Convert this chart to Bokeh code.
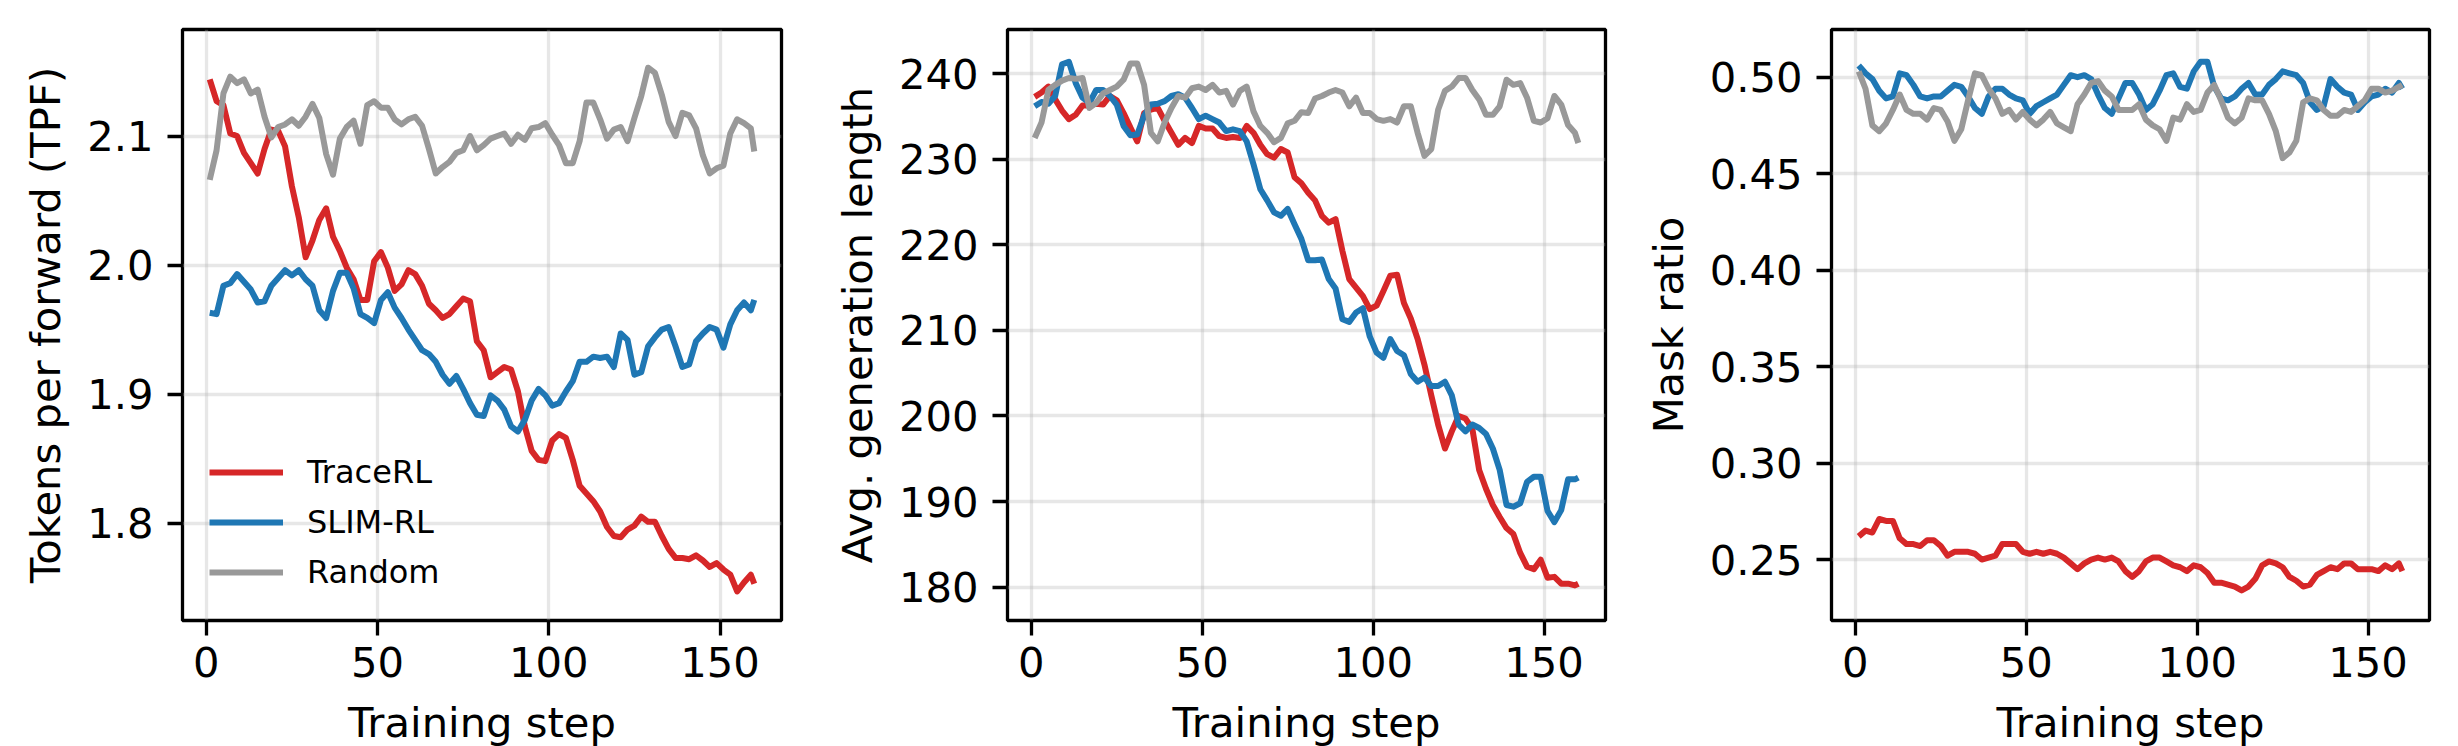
from bokeh.plotting import figure
from bokeh.layouts import row
from bokeh.models import Range1d, FixedTicker, PrintfTickFormatter, Legend, LegendItem
from bokeh.embed import file_html
from bokeh.resources import INLINE

# ---------------- data ----------------
steps = list(range(1, 160, 2)) + [160]

tpf_tracerl = [2.144, 2.127, 2.124, 2.102, 2.100, 2.087, 2.079, 2.071, 2.090, 2.105,
               2.104, 2.092, 2.061, 2.037, 2.006, 2.019, 2.035, 2.044, 2.022, 2.011,
               1.998, 1.989, 1.973, 1.973, 2.003, 2.010, 1.998, 1.980, 1.985, 1.996,
               1.993, 1.984, 1.970, 1.965, 1.959, 1.962, 1.968, 1.974, 1.972, 1.941,
               1.934, 1.913, 1.917, 1.921, 1.919, 1.902, 1.875, 1.856, 1.849, 1.848,
               1.864, 1.869, 1.866, 1.849, 1.829, 1.823, 1.817, 1.809, 1.797, 1.790,
               1.789, 1.795, 1.798, 1.805, 1.801, 1.801, 1.790, 1.780, 1.773, 1.773,
               1.772, 1.775, 1.771, 1.766, 1.769, 1.764, 1.760, 1.747, 1.754, 1.760,
               1.753]
tpf_slimrl = [1.963, 1.962, 1.984, 1.986, 1.993, 1.987, 1.981, 1.971, 1.972, 1.984,
              1.990, 1.996, 1.992, 1.996, 1.989, 1.984, 1.965, 1.959, 1.980, 1.994,
              1.994, 1.982, 1.962, 1.959, 1.955, 1.973, 1.979, 1.967, 1.959, 1.950,
              1.942, 1.934, 1.931, 1.925, 1.915, 1.908, 1.914, 1.904, 1.893, 1.884,
              1.883, 1.899, 1.895, 1.888, 1.875, 1.871, 1.880, 1.895, 1.904, 1.899,
              1.891, 1.893, 1.902, 1.910, 1.925, 1.925, 1.929, 1.928, 1.929, 1.921,
              1.947, 1.942, 1.915, 1.917, 1.937, 1.944, 1.950, 1.952, 1.937, 1.921,
              1.923, 1.941, 1.947, 1.952, 1.950, 1.936, 1.954, 1.965, 1.971, 1.965,
              1.973]
tpf_random = [2.066, 2.089, 2.133, 2.146, 2.141, 2.144, 2.133, 2.136, 2.115, 2.099,
              2.107, 2.109, 2.113, 2.108, 2.115, 2.125, 2.114, 2.086, 2.070, 2.098,
              2.107, 2.112, 2.094, 2.124, 2.127, 2.122, 2.122, 2.113, 2.109, 2.113,
              2.115, 2.108, 2.090, 2.071, 2.076, 2.080, 2.087, 2.089, 2.100, 2.089,
              2.093, 2.098, 2.100, 2.102, 2.094, 2.101, 2.097, 2.106, 2.107, 2.110,
              2.101, 2.093, 2.079, 2.079, 2.096, 2.126, 2.126, 2.113, 2.098, 2.105,
              2.107, 2.096, 2.114, 2.131, 2.153, 2.149, 2.132, 2.111, 2.100, 2.118,
              2.116, 2.106, 2.085, 2.071, 2.075, 2.077, 2.102, 2.113, 2.110, 2.106,
              2.088]

len_tracerl = [237.3, 237.8, 238.5, 237.0, 235.7, 234.7, 235.2, 236.3, 236.3, 236.5,
               236.4, 237.4, 236.9, 235.4, 233.7, 232.1, 235.4, 235.8, 236.0, 234.5,
               233.1, 231.7, 232.5, 231.9, 233.9, 233.6, 233.6, 232.7, 232.5, 232.6,
               232.5, 233.9, 233.1, 231.7, 230.6, 230.2, 231.2, 230.8, 227.9, 227.2,
               226.1, 225.2, 223.4, 222.6, 223.0, 219.3, 216.0, 215.0, 214.0, 212.5,
               212.9, 214.6, 216.4, 216.5, 213.2, 211.4, 209.0, 206.0, 202.4, 199.0,
               196.2, 198.2, 200.0, 199.7, 198.5, 193.7, 191.5, 189.6, 188.2, 186.9,
               186.2, 184.0, 182.4, 182.1, 183.2, 181.1, 181.2, 180.4, 180.4, 180.2,
               180.4]
len_slimrl = [236.2, 236.7, 236.5, 237.4, 241.1, 241.4, 238.9, 237.2, 236.6, 238.1,
              238.1, 237.4, 236.4, 233.9, 232.8, 232.9, 235.1, 236.4, 236.5, 236.8,
              237.4, 237.6, 237.2, 236.0, 234.7, 235.1, 234.7, 234.3, 233.3, 233.5,
              233.3, 232.1, 229.4, 226.5, 225.2, 223.8, 223.4, 224.2, 222.4, 220.7,
              218.2, 218.2, 218.3, 216.0, 214.9, 211.3, 211.0, 212.1, 212.6, 209.3,
              207.4, 206.8, 209.0, 207.6, 207.1, 204.9, 204.0, 204.5, 203.5, 203.5,
              204.0, 202.4, 199.0, 198.2, 199.0, 198.6, 197.9, 196.2, 193.7, 189.6,
              189.4, 189.8, 192.3, 192.9, 192.9, 188.9, 187.6, 189.0, 192.6, 192.6,
              192.8]
len_random = [232.5, 234.3, 238.1, 238.7, 239.2, 239.5, 239.4, 239.5, 236.0, 236.6,
              237.7, 238.1, 238.5, 239.3, 241.2, 241.2, 238.7, 233.1, 232.1, 234.3,
              236.0, 237.4, 237.2, 238.3, 238.5, 238.1, 238.7, 237.8, 238.0, 236.4,
              238.0, 238.5, 235.6, 233.9, 233.1, 232.0, 232.5, 234.2, 234.5, 235.5,
              235.4, 237.1, 237.4, 237.8, 238.1, 237.8, 236.2, 237.2, 235.4, 235.4,
              234.7, 234.5, 234.7, 234.3, 236.2, 236.2, 233.1, 230.4, 231.2, 235.8,
              238.0, 238.5, 239.5, 239.5, 238.1, 237.0, 235.2, 235.2, 236.2, 239.3,
              238.7, 238.9, 237.2, 234.5, 234.3, 234.8, 237.4, 236.4, 234.0, 233.1,
              231.9]

mask_tracerl = [0.262, 0.265, 0.264, 0.271, 0.270, 0.270, 0.261, 0.258, 0.258, 0.257,
                0.260, 0.260, 0.257, 0.252, 0.254, 0.254, 0.254, 0.253, 0.250, 0.251,
                0.252, 0.258, 0.258, 0.258, 0.254, 0.253, 0.254, 0.253, 0.254, 0.253,
                0.251, 0.248, 0.245, 0.248, 0.250, 0.251, 0.250, 0.251, 0.249, 0.244,
                0.241, 0.244, 0.249, 0.251, 0.251, 0.249, 0.247, 0.246, 0.244, 0.247,
                0.246, 0.243, 0.238, 0.238, 0.237, 0.236, 0.234, 0.236, 0.240, 0.247,
                0.249, 0.248, 0.246, 0.241, 0.239, 0.236, 0.237, 0.242, 0.244, 0.246,
                0.245, 0.248, 0.248, 0.245, 0.245, 0.245, 0.244, 0.247, 0.245, 0.248,
                0.244]
mask_slimrl = [0.506, 0.502, 0.499, 0.493, 0.489, 0.490, 0.502, 0.501, 0.496, 0.490,
               0.489, 0.490, 0.490, 0.493, 0.496, 0.495, 0.490, 0.484, 0.481, 0.490,
               0.494, 0.494, 0.491, 0.489, 0.488, 0.481, 0.485, 0.487, 0.489, 0.491,
               0.496, 0.501, 0.500, 0.501, 0.499, 0.491, 0.484, 0.481, 0.489, 0.497,
               0.497, 0.491, 0.483, 0.486, 0.493, 0.501, 0.502, 0.495, 0.494, 0.503,
               0.508, 0.508, 0.495, 0.489, 0.488, 0.490, 0.494, 0.497, 0.491, 0.491,
               0.496, 0.499, 0.503, 0.502, 0.501, 0.497, 0.487, 0.483, 0.485, 0.499,
               0.495, 0.492, 0.491, 0.483, 0.487, 0.490, 0.491, 0.494, 0.492, 0.497,
               0.494]
mask_random = [0.503, 0.494, 0.475, 0.472, 0.476, 0.483, 0.491, 0.483, 0.481, 0.481,
               0.478, 0.484, 0.483, 0.477, 0.467, 0.473, 0.488, 0.502, 0.501, 0.494,
               0.489, 0.481, 0.483, 0.478, 0.482, 0.478, 0.475, 0.478, 0.482, 0.476,
               0.474, 0.472, 0.486, 0.491, 0.497, 0.498, 0.493, 0.490, 0.483, 0.483,
               0.483, 0.486, 0.478, 0.475, 0.473, 0.467, 0.479, 0.478, 0.486, 0.482,
               0.483, 0.492, 0.496, 0.488, 0.479, 0.476, 0.479, 0.489, 0.488, 0.488,
               0.481, 0.472, 0.458, 0.461, 0.467, 0.487, 0.489, 0.488, 0.483, 0.480,
               0.480, 0.483, 0.482, 0.485, 0.488, 0.494, 0.494, 0.492, 0.493, 0.495,
               0.496]

x_ticks = [0, 50, 100, 150]
tpf_ticks = [1.8, 1.9, 2.0, 2.1]
len_ticks = [180, 190, 200, 210, 220, 230, 240]
mask_ticks = [0.25, 0.30, 0.35, 0.40, 0.45, 0.50]

series_names = ["TraceRL", "SLIM-RL", "Random"]
series_colors = ["#d62728", "#1f77b4", "#999999"]

# ---------------- style ----------------
FONT = "DejaVu Sans"
FS = "41.7px"
LW = 6


def make_panel(ys, yrange, yticks, yfmt, ylabel, bl, fw, br):
    p = figure(frame_width=fw, frame_height=591,
               x_range=Range1d(-6.95, 167.95), y_range=Range1d(*yrange),
               output_backend="svg", toolbar_location=None,
               min_border_left=bl, min_border_right=br,
               min_border_top=29, min_border_bottom=126)
    p.background_fill_color = "white"
    p.border_fill_color = "white"
    p.outline_line_color = "black"
    p.outline_line_width = 3.3
    p.outline_line_alpha = 1.0

    p.xaxis.ticker = FixedTicker(ticks=x_ticks)
    p.yaxis.ticker = FixedTicker(ticks=yticks)
    p.yaxis.formatter = PrintfTickFormatter(format=yfmt)
    p.xaxis.axis_label = "Training step"
    p.yaxis.axis_label = ylabel

    for ax in (p.xaxis, p.yaxis):
        ax.axis_line_color = None
        ax.major_tick_line_color = "black"
        ax.major_tick_line_width = 3.3
        ax.major_tick_out = 15
        ax.major_tick_in = 0
        ax.minor_tick_line_color = None
        ax.major_label_text_font = FONT
        ax.major_label_text_font_size = FS
        ax.major_label_text_color = "black"
        ax.axis_label_text_font = FONT
        ax.axis_label_text_font_size = FS
        ax.axis_label_text_font_style = "normal"
        ax.axis_label_text_color = "black"
    p.xaxis.major_label_standoff = 11
    p.xaxis.axis_label_standoff = 18
    p.yaxis.major_label_standoff = 14
    p.yaxis.axis_label_standoff = 14

    for g in (p.xgrid, p.ygrid):
        g.grid_line_color = "#b0b0b0"
        g.grid_line_alpha = 0.3
        g.grid_line_width = 3.3

    rends = []
    for y, c in zip(ys, series_colors):
        r = p.line(steps, y, line_color=c, line_width=LW, line_join="round")
        rends.append(r)
    return p, rends


p1, r1 = make_panel([tpf_tracerl, tpf_slimrl, tpf_random], (1.7245, 2.1826),
                    tpf_ticks, "%.1f", "Tokens per forward (TPF)", 182, 599, 39)
p2, _ = make_panel([len_tracerl, len_slimrl, len_random], (176.1, 245.17),
                   len_ticks, "%d", "Avg. generation length", 187, 598, 35)
p3, _ = make_panel([mask_tracerl, mask_slimrl, mask_random], (0.2184, 0.5247),
                   mask_ticks, "%.2f", "Mask ratio", 190, 598, 30)

legend = Legend(items=[LegendItem(label=n, renderers=[r]) for n, r in zip(series_names, r1)],
                location=(27, 28))
legend.label_text_font = FONT
legend.label_text_font_size = "32px"
legend.label_text_color = "black"
legend.glyph_width = 74
legend.glyph_height = 40
legend.label_height = 40
legend.label_standoff = 24
legend.spacing = 10
legend.padding = 0
legend.margin = 0
legend.border_line_alpha = 0
legend.background_fill_alpha = 0
p1.add_layout(legend)

layout = row(p1, p2, p3)

with open("out.html", "w") as f:
    f.write(file_html(layout, INLINE))
